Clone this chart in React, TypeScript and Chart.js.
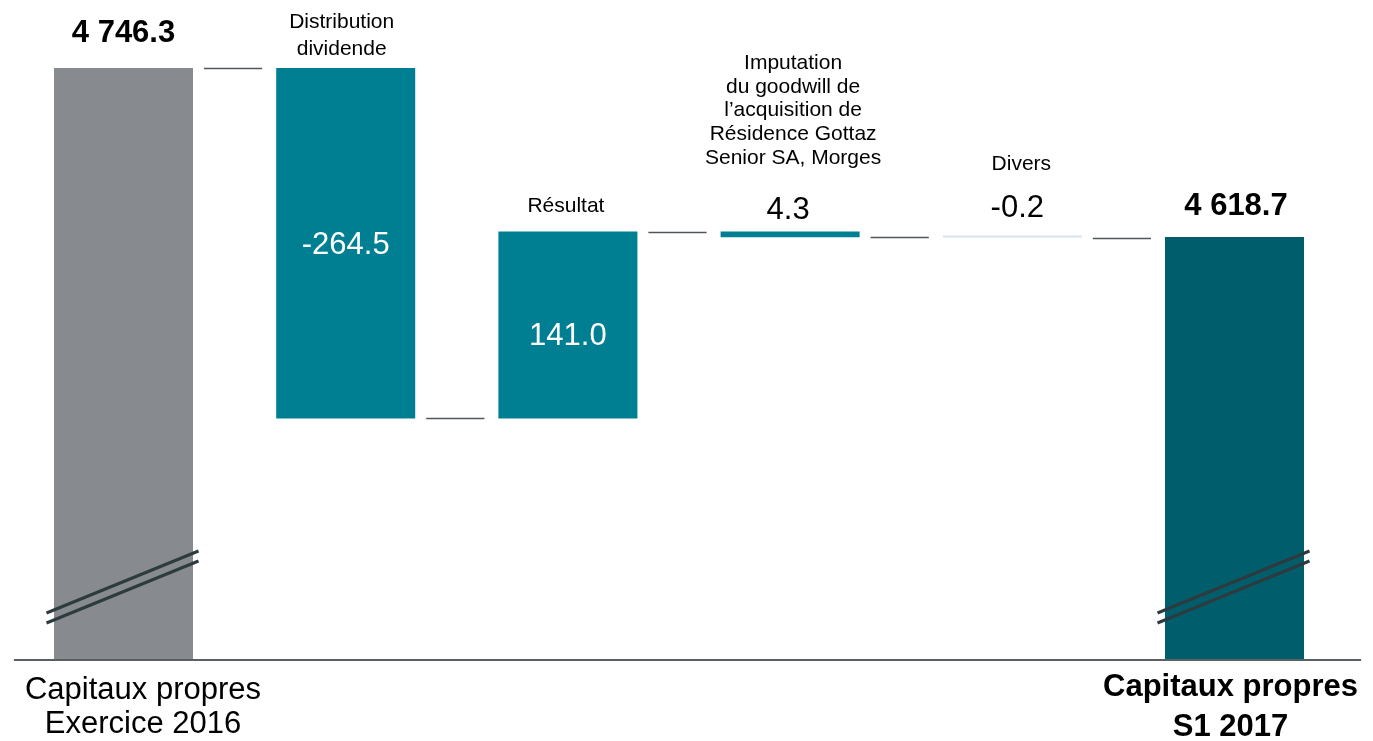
import React, { useEffect, useRef } from "react";
import { Chart, registerables } from "chart.js";

Chart.register(...registerables);

// ---- data ----
const categoryLabels: string[][] = [
  ["Capitaux propres", "Exercice 2016"],
  ["Distribution", "dividende"],
  ["Résultat"],
  ["Imputation", "du goodwill de", "l’acquisition de", "Résidence Gottaz", "Senior SA, Morges"],
  ["Divers"],
  ["Capitaux propres", "S1 2017"],
];
const startTotal = 4746.3;
const changes = [-264.5, 141.0, -4.3, -0.2];
const endTotal = 4618.7;
const valueLabels = ["4 746.3", "-264.5", "141.0", "4.3", "-0.2", "4 618.7"];
const axisFloor = 4299.5; // broken axis: value shown at the baseline
const axisCeil = 4790;

// ---- derived ----
const levels: number[] = [startTotal];
changes.forEach((c) => levels.push(levels[levels.length - 1] + c));
const barRanges: [number, number][] = [
  [axisFloor, startTotal],
  ...changes.map((c, i) => [levels[i], levels[i + 1]] as [number, number]),
  [axisFloor, endTotal],
];

// ---- styles ----
const FONT = "'Liberation Sans', Arial, Helvetica, sans-serif";
const barColors = ["#878b8f", "#007f93", "#007f93", "#007f93", "#d3e5eb", "#005e6c"];

type LabelStyle = {
  valuePos: "above" | "inside";
  valueDy: number; // cap centre offset (above: distance above top; inside: offset from middle)
  valueDx: number;
  valueBold: boolean;
  valueColor: string;
  catPos: "above" | "below";
  catDy: number;
  catDx: number;
  catLine: number;
  catBold: boolean;
};
const labelStyles: LabelStyle[] = [
  { valuePos: "above", valueDy: 37, valueDx: 0, valueBold: true, valueColor: "#000", catPos: "below", catDy: 27.5, catDx: 19.5, catLine: 34, catBold: false },
  { valuePos: "inside", valueDy: 0, valueDx: 0, valueBold: false, valueColor: "#fff", catPos: "above", catDy: 20.5, catDx: -4, catLine: 26.5, catBold: false },
  { valuePos: "inside", valueDy: 9, valueDx: 0, valueBold: false, valueColor: "#fff", catPos: "above", catDy: 27, catDx: -2, catLine: 25, catBold: false },
  { valuePos: "above", valueDy: 24, valueDx: -2, valueBold: false, valueColor: "#000", catPos: "above", catDy: 75, catDx: 3, catLine: 23.8, catBold: false },
  { valuePos: "above", valueDy: 30, valueDx: 5, valueBold: false, valueColor: "#000", catPos: "above", catDy: 73, catDx: 9, catLine: 25, catBold: false },
  { valuePos: "above", valueDy: 33, valueDx: 1.5, valueBold: true, valueColor: "#000", catPos: "below", catDy: 24.5, catDx: -4, catLine: 39, catBold: true },
];

function drawCapCentered(ctx: CanvasRenderingContext2D, text: string, x: number, capCenter: number, size: number) {
  ctx.textAlign = "center";
  ctx.textBaseline = "alphabetic";
  ctx.fillText(text, x, capCenter + 0.358 * size);
}

const waterfallPlugin = {
  id: "waterfallDecor",
  afterDatasetsDraw(chart: any) {
    const ctx: CanvasRenderingContext2D = chart.ctx;
    const area = chart.chartArea;
    const yScale = chart.scales.y;
    const meta = chart.getDatasetMeta(0);
    const els = meta.data;
    ctx.save();

    // baseline
    ctx.strokeStyle = "#595f63";
    ctx.lineWidth = 2;
    ctx.beginPath();
    ctx.moveTo(area.left + 1.5, area.bottom);
    ctx.lineTo(area.right + 15.5, area.bottom);
    ctx.stroke();

    // connectors
    ctx.strokeStyle = "#50575b";
    ctx.lineWidth = 1.5;
    for (let i = 0; i < els.length - 1; i++) {
      const a = els[i];
      const b = els[i + 1];
      const y = Math.round(yScale.getPixelForValue(levels[Math.min(i, levels.length - 1)])) + 0.5;
      ctx.beginPath();
      ctx.moveTo(a.x + a.width / 2 + 11, y);
      ctx.lineTo(b.x - b.width / 2 - 14, y);
      ctx.stroke();
    }

    // axis break marks on the first and last bars
    ctx.strokeStyle = "#2e3b3e";
    ctx.lineWidth = 3;
    ctx.lineCap = "butt";
    [0, els.length - 1].forEach((i) => {
      const el = els[i];
      const l = el.x - el.width / 2 - 7.5;
      const r = el.x + el.width / 2 + 5.5;
      for (const off of [0, 10]) {
        ctx.beginPath();
        ctx.moveTo(l, area.bottom - 47 + off);
        ctx.lineTo(r, area.bottom - 109 + off);
        ctx.stroke();
      }
    });

    // labels
    els.forEach((el: any, i: number) => {
      const st = labelStyles[i];
      const top = Math.min(el.y, el.base);
      const bottom = Math.max(el.y, el.base);
      // value
      const vSize = 31;
      ctx.font = `${st.valueBold ? "bold " : ""}${vSize}px ${FONT}`;
      ctx.fillStyle = st.valueColor;
      const vy = st.valuePos === "above" ? top - st.valueDy : (top + bottom) / 2 + st.valueDy;
      drawCapCentered(ctx, valueLabels[i], el.x + st.valueDx, vy, vSize);

      // category
      const lines = categoryLabels[i];
      ctx.fillStyle = "#000";
      if (st.catPos === "above") {
        const cSize = 21;
        ctx.font = `${cSize}px ${FONT}`;
        const last = top - st.catDy;
        lines.forEach((ln, k) => {
          const y = last - (lines.length - 1 - k) * st.catLine;
          drawCapCentered(ctx, ln, el.x + st.catDx, y, cSize);
        });
      } else {
        const cSize = 31;
        ctx.font = `${st.catBold ? "bold " : ""}${cSize}px ${FONT}`;
        const first = area.bottom + st.catDy;
        lines.forEach((ln, k) => {
          drawCapCentered(ctx, ln, el.x + st.catDx, first + k * (st.catBold ? 40 : 34), cSize);
        });
      }
    });
    ctx.restore();
  },
};

export default function App() {
  const canvasRef = useRef<HTMLCanvasElement | null>(null);

  useEffect(() => {
    document.body.style.margin = "0";
    const canvas = canvasRef.current;
    if (!canvas) return;
    const chart = new Chart(canvas, {
      type: "bar",
      data: {
        labels: categoryLabels.map((l) => l.join(" ")),
        datasets: [
          {
            data: barRanges as any,
            backgroundColor: barColors,
            borderWidth: 0,
            barPercentage: 1,
            categoryPercentage: 0.6256,
            minBarLength: 2,
          },
        ],
      },
      options: {
        responsive: false,
        animation: false,
        layout: { padding: { left: 12.4, right: 27.4, top: 10, bottom: 81 } },
        plugins: { legend: { display: false }, tooltip: { enabled: false } },
        scales: {
          x: { display: false, offset: true, grid: { display: false } },
          y: { display: false, min: axisFloor, max: axisCeil, grid: { display: false } },
        },
      },
      plugins: [waterfallPlugin],
    });
    return () => chart.destroy();
  }, []);

  return (
    <div style={{ width: 1373, height: 741, background: "#fff" }}>
      <canvas ref={canvasRef} width={1373} height={741} style={{ display: "block" }} />
    </div>
  );
}
